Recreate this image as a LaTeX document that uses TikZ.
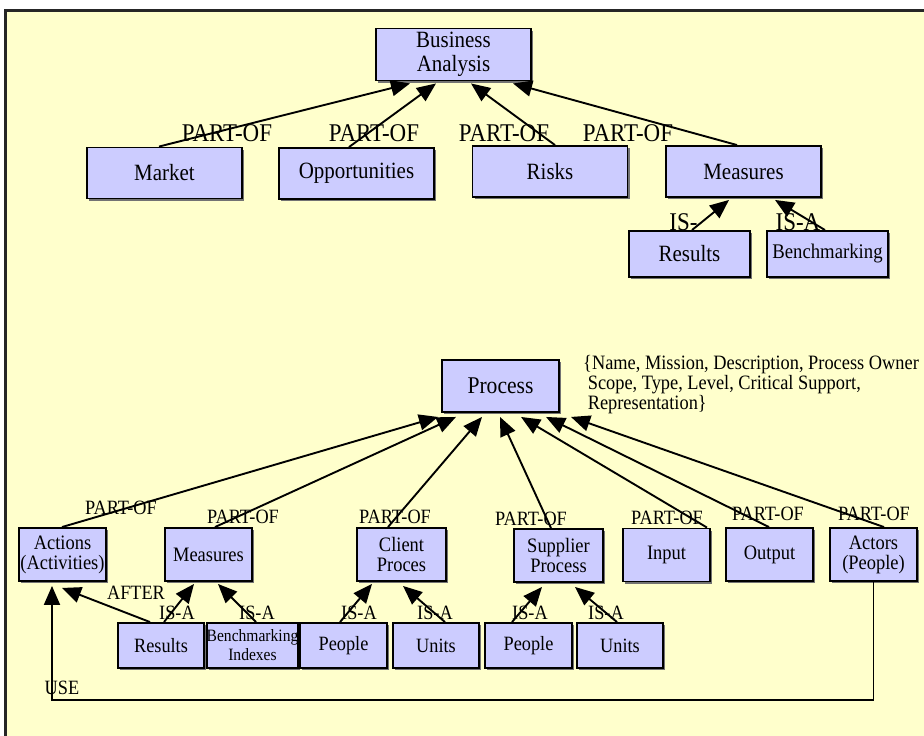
\documentclass[tikz,border=0pt]{standalone}
\usepackage{fontspec}
\setmainfont{Liberation Serif}[FakeStretch=0.9]
\usetikzlibrary{arrows.meta,shadows,calc}
\definecolor{paper}{HTML}{FFFFCC}
\definecolor{boxfill}{HTML}{CCCCFF}

\tikzset{
  cls/.style={draw=black, line width=1.9pt, fill=boxfill, inner sep=0pt, align=center,
    drop shadow={shadow xshift=2pt, shadow yshift=-2pt, fill=black!55, opacity=1}},
  topbox/.style={cls, minimum width=155pt, minimum height=51pt, font=\fontsize{23.3}{24}\selectfont},
  lowbox/.style={cls, minimum width=87pt, minimum height=53pt, font=\fontsize{20.5}{20}\selectfont},
  leafbox/.style={cls, minimum width=86pt, minimum height=45pt, font=\fontsize{20.3}{20}\selectfont},
  link/.style={line width=1.9pt, -{Triangle[length=19pt,width=16pt]}},
  biglbl/.style={inner sep=0pt, font=\fontsize{25.5}{26}\selectfont},
  smlbl/.style={inner sep=0pt, font=\fontsize{20.3}{20}\selectfont},
}

\begin{document}
\begin{tikzpicture}[x=1pt, y=-1pt]
\useasboundingbox (0,0) rectangle (924,736);
\clip (0,0) rectangle (924,736);
\fill[white] (0,0) rectangle (924,736);

% sheet with its frame
\fill[paper] (4,10) rectangle (940,750);
\draw[black!85, line width=3pt] (5.5,750) -- (5.5,10.5) -- (940,10.5);

% ---------- business analysis tree ----------
\node[topbox, minimum height=52pt] (ba) at (453.5,54.5) {Business\\Analysis};
\node[topbox] (market) at (164.5,173) {Market};
\node[topbox] (opp) at (356.5,173.5) {Opportunities};
\node[topbox] (risks) at (550,171.5) {Risks};
\node[topbox] (meas) at (743.5,171.5) {Measures};
\node[topbox, minimum width=121pt, minimum height=46pt] (res) at (689.5,254) {Results};
\node[topbox, minimum width=121pt, minimum height=46pt, font=\fontsize{20.8}{22}\selectfont] (bench) at (827.5,254) {Benchmarking};

\draw[link] ($(market.north)+(-5.5,0)$) -- ($(ba.south)+(-43.5,2)$);
\draw[link] ($(opp.north)+(-7.5,0)$) -- ($(ba.south)+(-17.5,2)$);
\draw[link] ($(risks.north)+(5,0)$) -- ($(ba.south)+(17.5,2)$);
\draw[link] ($(meas.north)+(-6.5,0)$) -- ($(ba.south)+(59.5,2)$);
\draw[link] ($(res.north)+(2.5,0)$) -- ($(meas.south)+(-14.5,2)$);
\draw[link] ($(bench.north)+(-2.5,0)$) -- ($(meas.south)+(31.5,2)$);

\node[biglbl] (lmarket) at (227,133) {PART-OF};
\node[biglbl] (lopp) at (374,133) {PART-OF};
\node[biglbl] (lrisks) at (504,133) {PART-OF};
\node[biglbl] (lmeas) at (628,133) {PART-OF};
\node[biglbl] (lres) at (683.5,222) {IS-};
\node[biglbl] (lbench) at (798,222) {IS-A};

% ---------- process tree ----------
\node[cls, minimum width=117pt, minimum height=52pt, font=\fontsize{24}{24}\selectfont] (proc) at (500.5,386) {Process};
\node[anchor=north west, inner sep=0pt, align=left, font=\fontsize{20.4}{20}\selectfont] (attrs) at (583,355)
  {\{Name, Mission, Description, Process Owner\\\ Scope, Type, Level, Critical Support,\\\ Representation\}};

\node[lowbox] (act) at (62.5,554.5) {Actions\\(Activities)};
\node[lowbox] (meas2) at (208.5,554.5) {Measures};
\node[lowbox, minimum width=89pt] (client) at (401.5,554.5) {Client\\Proces};
\node[lowbox, minimum width=89pt] (supp) at (558.5,555.5) {Supplier\\Process};
\node[lowbox] (input) at (666.5,555) {Input};
\node[lowbox] (output) at (769.5,554.5) {Output};
\node[lowbox] (actors) at (873.5,554.5) {Actors\\(People)};

\node[leafbox] (res2) at (161,645.5) {Results};
\node[leafbox, minimum width=88pt, font=\fontsize{17.3}{19}\selectfont] (bidx) at (252.5,645.5) {Benchmarking\\Indexes};
\node[leafbox, minimum width=87pt] (ppl1) at (343.5,645.5) {People};
\node[leafbox] (unit1) at (436,645.5) {Units};
\node[leafbox, minimum width=87pt] (ppl2) at (528.5,645.5) {People};
\node[leafbox] (unit2) at (620,645.5) {Units};

\draw[link] ($(act.north)+(-0.5,0)$) -- ($(proc.south)+(-62.5,4)$);
\draw[link] ($(meas2.north)+(6.5,0)$) -- ($(proc.south)+(-44.5,4)$);
\draw[link] ($(client.north)+(-13.5,0)$) -- ($(proc.south)+(-18.5,4)$);
\draw[link] ($(supp.north)+(-7.5,0)$) -- ($(proc.south)+(-0.5,4)$);
\draw[link] ($(input.north)+(40.5,0)$) -- ($(proc.south)+(20.5,4)$);
\draw[link] ($(output.north)+(-0.5,0)$) -- ($(proc.south)+(45.5,4)$);
\draw[link] ($(actors.north)+(10.5,0)$) -- ($(proc.south)+(70.5,4)$);

\draw[link] ($(res2.north)+(-11,0)$) -- ($(act.south)+(-0.5,6)$);
\draw[link] ($(res2.north)+(3,0)$) -- ($(meas2.south)+(-14.5,2)$);
\draw[link] ($(bidx.north)+(3.5,0)$) -- ($(meas2.south)+(9.5,2)$);
\draw[link] ($(ppl1.north)+(-3.5,0)$) -- ($(client.south)+(-29.5,2)$);
\draw[link] ($(unit1.north)+(9,0)$) -- ($(client.south)+(1.5,4)$);
\draw[link] ($(ppl2.north)+(-16.5,0)$) -- ($(supp.south)+(-16.5,4)$);
\draw[link] ($(unit2.north)+(-3,0)$) -- ($(supp.south)+(16.5,4)$);
\draw[link] (actors.south) |- ($(act.south)+(-10.5,118)$) -- ($(act.south)+(-10.5,4)$);

\node[smlbl] (lact) at (121,508) {PART-OF};
\node[smlbl] (lmeas2) at (243,517) {PART-OF};
\node[smlbl] (lclient) at (395,517) {PART-OF};
\node[smlbl] (lsupp) at (531,519) {PART-OF};
\node[smlbl] (linput) at (667,518) {PART-OF};
\node[smlbl] (loutput) at (768,514) {PART-OF};
\node[smlbl] (lactors) at (874,514) {PART-OF};
\node[smlbl] (lafter) at (136,593) {AFTER};
\node[smlbl] (lres2) at (177,613) {IS-A};
\node[smlbl] (lbidx) at (257,613) {IS-A};
\node[smlbl] (lppl1) at (359,613) {IS-A};
\node[smlbl] (lunit1) at (435,613) {IS-A};
\node[smlbl] (lppl2) at (530,613) {IS-A};
\node[smlbl] (lunit2) at (606,613) {IS-A};
\node[smlbl] (luse) at (62,688) {USE};
\end{tikzpicture}
\end{document}
